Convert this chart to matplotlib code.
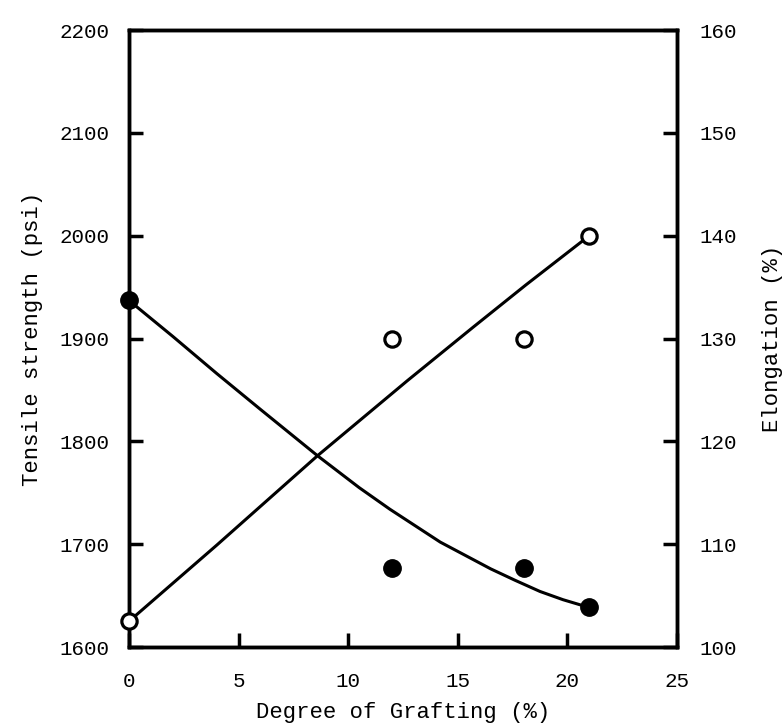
import matplotlib
matplotlib.use("Agg")
import matplotlib.pyplot as plt

# Measured points
graft = [0, 12, 18, 21]
tensile = [1937, 1677, 1677, 1639]          # filled circles, left axis (psi)
elong = [102.5, 130, 130, 140]              # open circles, right axis (%)

# Drawn trend curves
tensile_curve_x = [0, 2, 4, 6, 8.6, 10.5, 11.9, 13.05, 14.2, 15.35, 16.5, 17.6, 18.75, 19.8, 20.9]
tensile_curve_y = [1937, 1902, 1866, 1831, 1786, 1755, 1734, 1718, 1702, 1689, 1676, 1665, 1654, 1646, 1639]
elong_curve_x = [0, 4, 8.6, 12.7, 15.7, 18.1, 21]
elong_curve_y = [102.5, 109.9, 118.6, 125.9, 131.1, 135.2, 140]

x_ticks = [0, 5, 10, 15, 20, 25]
left_ticks = [1600, 1700, 1800, 1900, 2000, 2100, 2200]
right_ticks = [100, 110, 120, 130, 140, 150, 160]

font = ["Liberation Mono", "DejaVu Sans Mono"]
plt.rcParams["font.family"] = font

fig = plt.figure(figsize=(7.83, 7.25), dpi=100)
ax = fig.add_axes([129 / 783, 1 - 647 / 725, (677 - 129) / 783, (647 - 30) / 725])
ax2 = ax.twinx()

lw = 2.2
ax.plot(tensile_curve_x, tensile_curve_y, color="black", lw=lw, zorder=3,
        solid_joinstyle="round")
ax.plot(graft, tensile, "o", color="black", ms=12.5, zorder=4, clip_on=False)
ax2.plot(elong_curve_x, elong_curve_y, color="black", lw=lw, zorder=3,
         solid_joinstyle="round")
ax2.plot(graft, elong, "o", mfc="white", mec="black", mew=2.3, ms=11, zorder=4, clip_on=False)

ax.set_xlim(0, 25)
ax.set_ylim(1600, 2200)
ax2.set_ylim(100, 160)
ax.set_xticks(x_ticks)
ax.set_yticks(left_ticks)
ax2.set_yticks(right_ticks)

for a in (ax, ax2):
    for s in a.spines.values():
        s.set_linewidth(2.5)

ax.tick_params(axis="both", direction="in", length=10, width=2.5, labelsize=15, top=False, right=False)
ax.tick_params(axis="x", pad=18)
ax.tick_params(axis="y", pad=14)
ax2.tick_params(axis="y", direction="in", length=10, width=2.5, labelsize=15, pad=16)

ax.set_xlabel("Degree of Grafting (%)", fontsize=16, labelpad=8)
ax.set_ylabel("Tensile strength (psi)", fontsize=16, labelpad=12)
ax2.set_ylabel("Elongation (%)", fontsize=16, labelpad=18)

fig.savefig("out.png", dpi=100)
